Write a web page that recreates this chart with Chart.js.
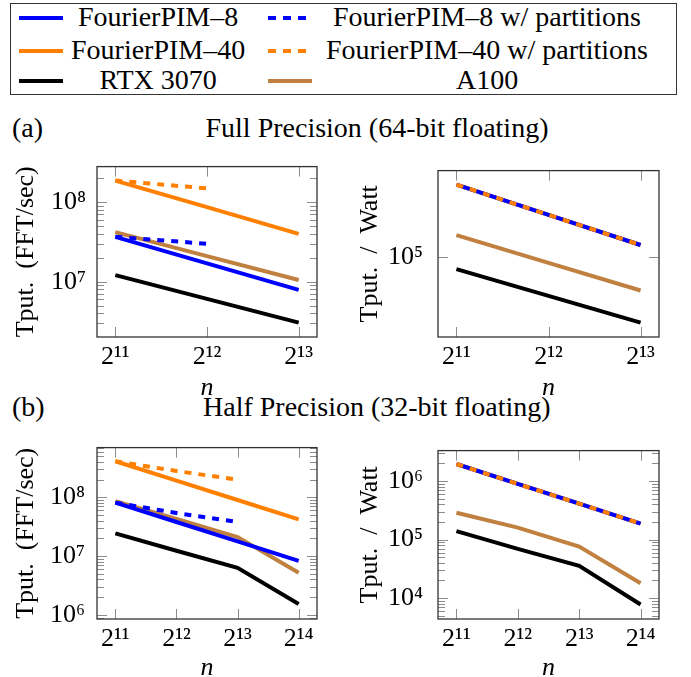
<!DOCTYPE html>
<html>
<head>
<meta charset="utf-8">
<script src="https://cdn.jsdelivr.net/npm/chart.js@4"></script>
<style>
  body { margin: 0; background: #fff; }
  #page { position: relative; width: 691px; height: 677px; overflow: hidden; font-family: "Liberation Serif", serif; }
  canvas { position: absolute; }
  .txt { position: absolute; white-space: nowrap; font-size: 28px; line-height: 28px; color: #000; }
  .box { position: absolute; left: 10px; top: 3px; width: 667px; height: 92px; border: 1.3px solid #333; box-sizing: border-box; }
  .sample { position: absolute; width: 44px; height: 4px; }
</style>
</head>
<body>
<div id="page">
  <div class="box"></div>
  <div id="legend"></div>

  <div class="txt" style="left:12px; top:114px;">(a)</div>
  <div class="txt" id="titleA" style="top:114px;">Full Precision (64-bit floating)</div>
  <div class="txt" style="left:12px; top:393px;">(b)</div>
  <div class="txt" id="titleB" style="top:393px;">Half Precision (32-bit floating)</div>

  <canvas id="fullTput" width="335" height="261" style="left:0; top:140px;"></canvas>
  <canvas id="fullWatt" width="351" height="261" style="left:340px; top:140px;"></canvas>
  <canvas id="halfTput" width="335" height="257" style="left:0; top:420px;"></canvas>
  <canvas id="halfWatt" width="351" height="257" style="left:340px; top:420px;"></canvas>
</div>

<script>
// x values are log2(n)
const nFull = [11, 12, 13];
const nFullPart = [11, 12];
const nHalf = [11, 12, 13, 14];
const nHalfPart = [11, 12, 13];

// (a) full precision, throughput (FFT/sec)
const pim8Full = [3.67e7, 1.7e7, 7.9e6];
const pim8PartFull = [3.67e7, 3.0e7];
const pim40Full = [1.87e8, 8.65e7, 4.0e7];
const pim40PartFull = [1.87e8, 1.49e8];
const rtxFull = [1.21e7, 6.1e6, 3.06e6];
const a100Full = [4.2e7, 2.1e7, 1.05e7];

// (a) full precision, throughput / watt
const pimFullWatt = [6.6e5, 3.0e5, 1.37e5];
const rtxFullWatt = [7.3e4, 3.65e4, 1.82e4];
const a100FullWatt = [1.77e5, 8.6e4, 4.19e4];

// (b) half precision, throughput (FFT/sec)
const pim8Half = [8.1e7, 3.8e7, 1.78e7, 8.3e6];
const pim8PartHalf = [8.1e7, 5.4e7, 3.8e7];
const pim40Half = [4.1e8, 1.92e8, 9.0e7, 4.2e7];
const pim40PartHalf = [4.1e8, 2.8e8, 1.99e8];
const rtxHalf = [2.43e7, 1.23e7, 6.3e6, 1.53e6];
const a100Half = [8.6e7, 4.3e7, 2.1e7, 5.2e6];

// (b) half precision, throughput / watt
const pimHalfWatt = [1.95e6, 8.9e5, 4.1e5, 1.87e5];
const rtxHalfWatt = [1.39e5, 6.95e4, 3.56e4, 7.8e3];
const a100HalfWatt = [2.87e5, 1.6e5, 7.6e4, 1.79e4];

const legendLabels = ["FourierPIM\u20138", "FourierPIM\u20138 w/ partitions", "FourierPIM\u201340",
  "FourierPIM\u201340 w/ partitions", "RTX 3070", "A100"];

const BLUE = "#0000ff", ORANGE = "#ff8000", BLACK = "#000000", BROWN = "#bf8040";
const FONT = "'Liberation Serif', serif";

const SUP = "\u2070\u00b9\u00b2\u00b3\u2074\u2075\u2076\u2077\u2078\u2079";
const sup = (v) => String(v).split("").map((d) => SUP[+d]).join("");

const pts = (xs, ys) => xs.map((x, i) => ({ x: x, y: ys[i] }));

const line = (label, xs, ys, color, dashed) => ({
  label: label,
  data: pts(xs, ys),
  borderColor: color,
  borderWidth: 4,
  borderDash: dashed ? [7, 7] : [],
  borderCapStyle: "butt",
  pointRadius: 0,
  tension: 0,
  fill: false,
});

// pgfplots-like box with inward ticks on all sides
const frame = {
  id: "frame",
  afterDatasetsDraw(chart, args, opts) {
    const { ctx, chartArea: a, scales } = chart;
    const x = scales.x, y = scales.y;
    ctx.save();
    ctx.lineWidth = 1;
    ctx.strokeStyle = "#8c8c8c";
    ctx.beginPath();
    x.ticks.forEach((t) => {
      const px = Math.round(x.getPixelForValue(t.value)) + 0.5;
      ctx.moveTo(px, a.bottom);
      ctx.lineTo(px, a.bottom - 10);
      ctx.moveTo(px, a.top);
      ctx.lineTo(px, a.top + 10);
    });
    const lo = Math.floor(Math.log10(y.min)), hi = Math.ceil(Math.log10(y.max));
    for (let k = lo; k <= hi; k++) {
      for (let m = 1; m < 10; m++) {
        if (m > 1 && !opts.minor) continue;
        const v = m * Math.pow(10, k);
        if (v < y.min || v > y.max) continue;
        const py = Math.round(y.getPixelForValue(v)) + 0.5;
        const len = m === 1 ? 10 : 7;
        ctx.moveTo(a.left, py);
        ctx.lineTo(a.left + len, py);
        ctx.moveTo(a.right, py);
        ctx.lineTo(a.right - len, py);
      }
    }
    ctx.stroke();
    ctx.strokeStyle = "#333";
    ctx.lineWidth = 1.3;
    ctx.strokeRect(a.left, a.top, a.right - a.left, a.bottom - a.top);
    ctx.restore();
  },
};

function makeChart(id, c) {
  const canvas = document.getElementById(id);
  const cx = parseFloat(canvas.style.left), cy = parseFloat(canvas.style.top);
  const cw = canvas.width, ch = canvas.height;
  const ar = c.area;
  // bottom-most dataset first
  const datasets = c.datasets.map((d, i) => Object.assign(d, { order: c.datasets.length - i }));

  return new Chart(canvas, {
    type: "line",
    data: { datasets: datasets },
    plugins: [frame],
    options: {
      responsive: false,
      animation: false,
      devicePixelRatio: 1,
      layout: { padding: { left: 0, top: ar.t - cy, right: cx + cw - ar.r, bottom: 0 } },
      plugins: {
        legend: { display: false },
        tooltip: { enabled: false },
        frame: { minor: c.minor },
      },
      scales: {
        x: {
          type: "linear",
          min: c.xMin,
          max: c.xMax,
          grid: { display: false, drawTicks: false },
          border: { display: false },
          afterBuildTicks: (s) => { s.ticks = c.xTicks.map((v) => ({ value: v })); },
          afterFit: (s) => { s.height = cy + ch - ar.b; },
          ticks: {
            color: "#000",
            padding: 5,
            maxRotation: 0,
            autoSkip: false,
            font: { family: FONT, size: 26 },
            callback: (v) => "2" + sup(v),
          },
          title: {
            display: true,
            text: "n",
            color: "#000",
            padding: 0,
            font: { family: FONT, size: 26, style: "italic", lineHeight: c.nLine },
          },
        },
        y: {
          type: "logarithmic",
          min: c.yMin,
          max: c.yMax,
          grid: { display: false, drawTicks: false },
          border: { display: false },
          afterBuildTicks: (s) => {
            const t = [];
            for (let k = Math.ceil(Math.log10(c.yMin)); Math.pow(10, k) <= c.yMax; k++) t.push({ value: Math.pow(10, k) });
            s.ticks = t;
          },
          afterFit: (s) => { s.width = ar.l - cx; },
          ticks: {
            color: "#000",
            padding: c.labelPad,
            font: { family: FONT, size: 26 },
            callback: (v) => "10" + sup(Math.round(Math.log10(v))),
          },
          title: {
            display: true,
            text: c.yTitle,
            color: "#000",
            padding: { top: c.titlePad, bottom: 0 },
            font: { family: FONT, size: 26, lineHeight: 1 },
          },
        },
      },
    },
  });
}

const L = legendLabels;

makeChart("fullTput", {
  area: { l: 97, t: 155, r: 317, b: 337 },
  xMin: 10.8, xMax: 13.2, xTicks: nFull,
  yMin: 2.02e6, yMax: 2.8e8, minor: true,
  yTitle: "Tput.  (FFT/sec)", titlePad: 13, labelPad: 11, nLine: 1,
  datasets: [
    line(L[4], nFull, rtxFull, BLACK),
    line(L[5], nFull, a100Full, BROWN),
    line(L[0], nFull, pim8Full, BLUE),
    line(L[1], nFullPart, pim8PartFull, BLUE, true),
    line(L[2], nFull, pim40Full, ORANGE),
    line(L[3], nFullPart, pim40PartFull, ORANGE, true),
  ],
});

makeChart("fullWatt", {
  area: { l: 438, t: 155, r: 659, b: 337 },
  xMin: 10.8, xMax: 13.2, xTicks: nFull,
  yMin: 1.25e4, yMax: 9.5e5, minor: false,
  yTitle: "Tput.  /  Watt", titlePad: 17, labelPad: 15, nLine: 1,
  datasets: [
    line(L[4], nFull, rtxFullWatt, BLACK),
    line(L[5], nFull, a100FullWatt, BROWN),
    line(L[2], nFull, pimFullWatt, ORANGE),
    line(L[0], nFull, pimFullWatt, BLUE),
    line(L[3], nFull, pimFullWatt, ORANGE, true),
  ],
});

makeChart("halfTput", {
  area: { l: 97, t: 437, r: 317, b: 619 },
  xMin: 10.7, xMax: 14.3, xTicks: nHalf,
  yMin: 8.5e5, yMax: 7.0e8, minor: true,
  yTitle: "Tput.  (FFT/sec)", titlePad: 13, labelPad: 12, nLine: 0.7,
  datasets: [
    line(L[4], nHalf, rtxHalf, BLACK),
    line(L[5], nHalf, a100Half, BROWN),
    line(L[0], nHalf, pim8Half, BLUE),
    line(L[1], nHalfPart, pim8PartHalf, BLUE, true),
    line(L[2], nHalf, pim40Half, ORANGE),
    line(L[3], nHalfPart, pim40PartHalf, ORANGE, true),
  ],
});

makeChart("halfWatt", {
  area: { l: 438, t: 437, r: 659, b: 619 },
  xMin: 10.7, xMax: 14.3, xTicks: nHalf,
  yMin: 4.4e3, yMax: 3.3e6, minor: true,
  yTitle: "Tput.  /  Watt", titlePad: 17, labelPad: 15, nLine: 0.7,
  datasets: [
    line(L[4], nHalf, rtxHalfWatt, BLACK),
    line(L[5], nHalf, a100HalfWatt, BROWN),
    line(L[2], nHalf, pimHalfWatt, ORANGE),
    line(L[0], nHalf, pimHalfWatt, BLUE),
    line(L[3], nHalf, pimHalfWatt, ORANGE, true),
  ],
});

// legend: two columns, three rows
const legendEl = document.getElementById("legend");
const rows = [18, 51, 81];
const cols = [{ sx: 19, tx: 158 }, { sx: 268, tx: 487 }];
const legendStyle = [[BLUE, false], [BLUE, true], [ORANGE, false], [ORANGE, true], [BLACK, false], [BROWN, false]];
legendLabels.forEach((label, i) => {
  const r = rows[Math.floor(i / 2)], col = cols[i % 2];
  const [color, dashed] = legendStyle[i];
  const s = document.createElement("div");
  s.className = "sample";
  s.style.left = col.sx + "px";
  s.style.top = (r - 2) + "px";
  s.style.background = dashed
    ? "repeating-linear-gradient(90deg, " + color + " 0 8px, transparent 8px 15px)"
    : color;
  legendEl.appendChild(s);
  const t = document.createElement("div");
  t.className = "txt";
  t.textContent = label;
  t.style.top = (r - 15) + "px";
  legendEl.appendChild(t);
  t.style.left = (col.tx - t.offsetWidth / 2) + "px";
});

// centre the row titles over both plots
["titleA", "titleB"].forEach((id) => {
  const el = document.getElementById(id);
  el.style.left = (377 - el.offsetWidth / 2) + "px";
});
</script>
</body>
</html>
